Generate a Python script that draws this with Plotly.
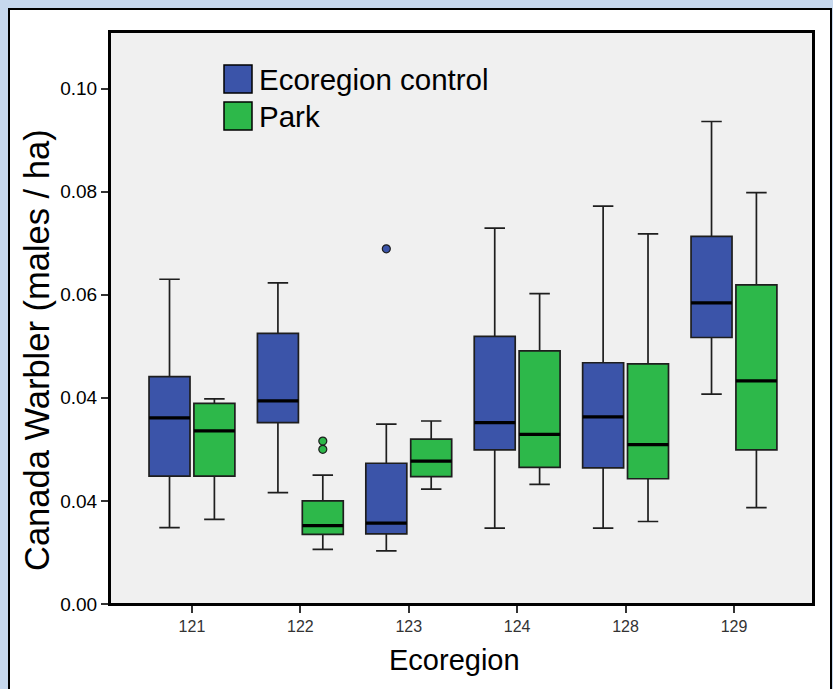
import plotly.graph_objects as go

# ---- data ----
ecoregions = ["121", "122", "123", "124", "128", "129"]
y_tick_vals = [0.00, 0.02, 0.04, 0.06, 0.08, 0.10]
y_tick_text = ["0.00", "0.04", "0.04", "0.06", "0.08", "0.10"]

ctrl_low = [0.0148, 0.0216, 0.0103, 0.0147, 0.0147, 0.0407]
ctrl_q1 = [0.0248, 0.0352, 0.0136, 0.0299, 0.0264, 0.0517]
ctrl_med = [0.0361, 0.0394, 0.0157, 0.0352, 0.0363, 0.0584]
ctrl_q3 = [0.0441, 0.0525, 0.0273, 0.0519, 0.0468, 0.0713]
ctrl_high = [0.0630, 0.0623, 0.0349, 0.0729, 0.0772, 0.0936]
ctrl_out_region = [2]
ctrl_out_vals = [0.0689]

park_low = [0.0164, 0.0106, 0.0223, 0.0232, 0.0160, 0.0187]
park_q1 = [0.0248, 0.0135, 0.0247, 0.0265, 0.0243, 0.0299]
park_med = [0.0336, 0.0152, 0.0277, 0.0329, 0.0309, 0.0433]
park_q3 = [0.0389, 0.0200, 0.0320, 0.0491, 0.0466, 0.0619]
park_high = [0.0398, 0.0250, 0.0355, 0.0602, 0.0718, 0.0798]
park_out_region = [1, 1]
park_out_vals = [0.0316, 0.0300]

series_names = ["Ecoregion control", "Park"]
x_title = "Ecoregion"
y_title = "Canada Warbler (males / ha)"

# ---- style ----
BLUE = "#3b54a9"
GREEN = "#2db84a"
EDGE = "#1e1e1e"
FONT = "Liberation Sans, Arial, sans-serif"
BOXGAP = 0.172
BOXGROUPGAP = 0.087

W, H = 833, 689
ML, MR, MT, MB = 110, 20, 32, 85
PW, PH = W - ML - MR, H - MT - MB


def px_x(p):
    return (p - ML) / PW


def px_y(p):
    return (H - MB - p) / PH


positions = list(range(len(ecoregions)))
slot = (1 - BOXGAP) / 2
box_w = slot * (1 - BOXGROUPGAP)
offsets = [-slot / 2, slot / 2]

fig = go.Figure()

stats = [
    (ctrl_low, ctrl_q1, ctrl_med, ctrl_q3, ctrl_high, BLUE),
    (park_low, park_q1, park_med, park_q3, park_high, GREEN),
]
for name, (lo, q1, md, q3, hi, col) in zip(series_names, stats):
    fig.add_trace(go.Box(
        name=name, x=positions, q1=q1, median=md, q3=q3,
        lowerfence=lo, upperfence=hi,
        fillcolor=col, line=dict(color=EDGE, width=1.7),
        whiskerwidth=0.5, boxpoints=False, showlegend=False,
        hoverinfo="skip",
    ))

# thicker median bars
for (lo, q1, md, q3, hi, col), off in zip(stats, offsets):
    xs, ys = [], []
    for p, m in zip(positions, md):
        xs += [p + off - box_w / 2, p + off + box_w / 2, None]
        ys += [m, m, None]
    fig.add_trace(go.Scatter(x=xs, y=ys, mode="lines",
                             line=dict(color="black", width=3.2),
                             showlegend=False, hoverinfo="skip"))

# outliers
for regs, vals, col, off in [(ctrl_out_region, ctrl_out_vals, BLUE, offsets[0]),
                             (park_out_region, park_out_vals, GREEN, offsets[1])]:
    fig.add_trace(go.Scatter(
        x=[r + off for r in regs], y=vals, mode="markers",
        marker=dict(size=8, color=col, line=dict(color=EDGE, width=1.2)),
        showlegend=False, hoverinfo="skip"))

shapes = [
    # white panel
    dict(type="rect", xref="paper", yref="paper", layer="below",
         x0=px_x(9), x1=px_x(831), y0=px_y(720), y1=px_y(9),
         fillcolor="white", line=dict(color="black", width=2)),
    # plot area
    dict(type="rect", xref="paper", yref="paper", layer="below",
         x0=0, x1=1, y0=0, y1=1,
         fillcolor="#f0f0f0", line=dict(color="black", width=2)),
]
annotations = []
legend_colors = [BLUE, GREEN]
legend_tops = [65, 102]
for name, col, top in zip(series_names, legend_colors, legend_tops):
    shapes.append(dict(type="rect", xref="paper", yref="paper",
                       x0=px_x(224), x1=px_x(252), y0=px_y(top + 28), y1=px_y(top),
                       fillcolor=col, line=dict(color="black", width=1.5)))
    annotations.append(dict(text=name, xref="paper", yref="paper",
                            x=px_x(257), y=px_y(top + 14), xanchor="left", yanchor="middle",
                            showarrow=False, font=dict(family=FONT, size=29.5, color="black")))

# axis titles
annotations.append(dict(text=x_title, xref="paper", yref="paper",
                        x=px_x(454), y=px_y(660), xanchor="center", yanchor="middle",
                        showarrow=False, font=dict(family=FONT, size=29, color="black")))
annotations.append(dict(text=y_title, xref="paper", yref="paper", textangle=-90,
                        x=px_x(37), y=px_y(350), xanchor="center", yanchor="middle",
                        showarrow=False, font=dict(family=FONT, size=34.5, color="black")))

fig.update_layout(
    width=W, height=H,
    margin=dict(l=ML, r=MR, t=MT, b=MB, pad=0),
    paper_bgcolor="#c6d8ee",
    plot_bgcolor="#f0f0f0",
    boxmode="group", boxgap=BOXGAP, boxgroupgap=BOXGROUPGAP,
    shapes=shapes, annotations=annotations,
    showlegend=False,
    font=dict(family=FONT, color="black"),
    xaxis=dict(
        range=[-0.756, 5.729], tickvals=positions, ticktext=ecoregions,
        ticks="outside", ticklen=7, tickwidth=1.5, tickcolor="#333",
        tickfont=dict(size=16, color="#333"),
        showgrid=False, zeroline=False, showline=True, linecolor="black",
        linewidth=2, mirror=True,
    ),
    yaxis=dict(
        range=[0, (H - MB - MT) / 5155], tickvals=y_tick_vals, ticktext=y_tick_text,
        ticks="outside", ticklen=7, tickwidth=1.5, tickcolor="#333",
        tickfont=dict(size=19, color="black"),
        showgrid=False, zeroline=False, showline=True, linecolor="black",
        linewidth=2, mirror=True,
    ),
)

fig.write_html("out.html")
